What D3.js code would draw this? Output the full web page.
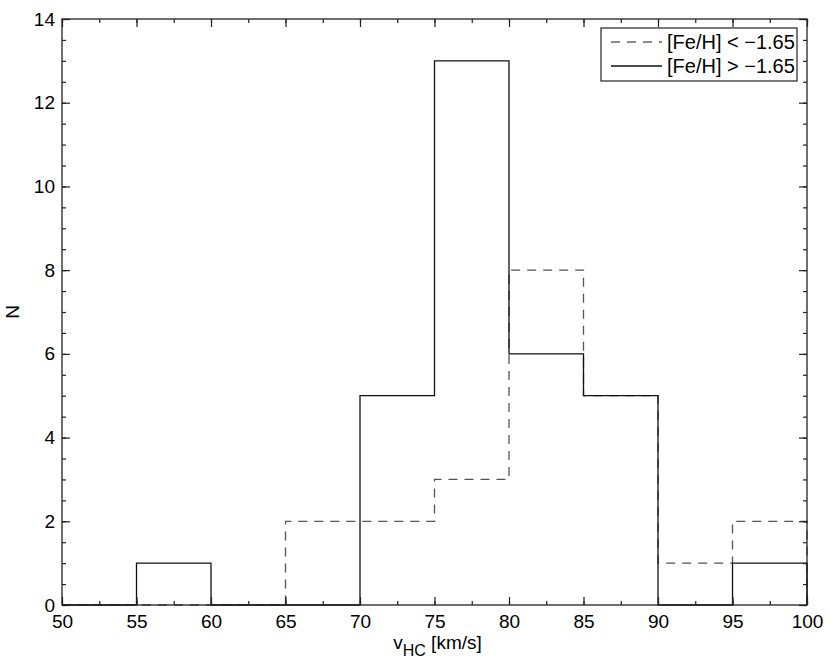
<!DOCTYPE html>
<meta charset="utf-8">
<style>
    body { margin: 0; background: #fff; }
    .tick text { font-family: "Liberation Sans", Arial, sans-serif; font-size: 19px; fill: #000; }
    .axisTitle { font-family: "Liberation Sans", Arial, sans-serif; font-size: 19px; fill: #000; }
    .hist { fill: none; }
</style>
<body>
<script src="https://d3js.org/d3.v7.min.js"></script>
<script>
    // bin edges (km/s) and counts per bin
    var binEdges = [50, 55, 60, 65, 70, 75, 80, 85, 90, 95, 100];
    var countsMetalPoor = [0, 0, 0, 2, 2, 3, 8, 5, 1, 2];   // [Fe/H] < -1.65
    var countsMetalRich = [0, 1, 0, 0, 5, 13, 6, 5, 0, 1];  // [Fe/H] > -1.65
    var xTicks = [50, 55, 60, 65, 70, 75, 80, 85, 90, 95, 100];
    var yTicks = [0, 2, 4, 6, 8, 10, 12, 14];
    var legendLabels = ["[Fe/H] < \u22121.65", "[Fe/H] > \u22121.65"];

    var margin = {top: 19, right: 23, bottom: 60, left: 62},
        width = 830 - margin.left - margin.right,
        height = 665 - margin.top - margin.bottom;

    var svg = d3.select("body").append("svg")
        .attr("width", 830).attr("height", 665)
        .append("g")
        .attr("transform", "translate(" + margin.left + "," + margin.top + ")");

    var x = d3.scaleLinear().domain([50, 100]).range([0, width]);
    var y = d3.scaleLinear().domain([0, 14]).range([height, 0]);

    // step outline for a histogram: start at 0, go up/down at each edge
    function stepPoints(counts) {
        var pts = [[binEdges[0], 0]];
        counts.forEach(function(c, i) {
            pts.push([binEdges[i], c]);
            pts.push([binEdges[i + 1], c]);
        });
        pts.push([binEdges[binEdges.length - 1], 0]);
        return pts;
    }
    var line = d3.line().x(function(d) { return x(d[0]); }).y(function(d) { return y(d[1]); });

    svg.append("path").datum(stepPoints(countsMetalPoor)).attr("class", "hist")
        .attr("d", line).attr("stroke", "#555").attr("stroke-width", 1.3)
        .attr("stroke-dasharray", "9,7");
    svg.append("path").datum(stepPoints(countsMetalRich)).attr("class", "hist")
        .attr("d", line).attr("stroke", "#111").attr("stroke-width", 1.3);

    // minor ticks
    var xMinor = d3.range(50, 100.01, 2.5);
    var yMinor = d3.range(0, 14.01, 0.5);

    function styleAxis(g) {
        g.select(".domain").remove();
        g.selectAll(".tick line").attr("stroke", "#222").attr("stroke-width", 1.2);
    }

    // bottom
    svg.append("g").attr("transform", "translate(0," + height + ")")
        .call(d3.axisBottom(x).tickValues(xMinor).tickSize(-4).tickFormat(""))
        .call(styleAxis);
    var xAxisG = svg.append("g").attr("transform", "translate(0," + height + ")")
        .call(d3.axisBottom(x).tickValues(xTicks).tickSize(-8).tickPadding(12).tickFormat(d3.format("d")))
        .call(styleAxis);
    xAxisG.selectAll(".tick text").attr("dy", null).attr("y", 23);
    // top
    svg.append("g")
        .call(d3.axisTop(x).tickValues(xMinor).tickSize(-4).tickFormat(""))
        .call(styleAxis);
    svg.append("g")
        .call(d3.axisTop(x).tickValues(xTicks).tickSize(-8).tickFormat(""))
        .call(styleAxis);
    // left
    svg.append("g")
        .call(d3.axisLeft(y).tickValues(yMinor).tickSize(-4).tickFormat(""))
        .call(styleAxis);
    svg.append("g")
        .call(d3.axisLeft(y).tickValues(yTicks).tickSize(-8).tickPadding(7).tickFormat(d3.format("d")))
        .call(styleAxis);
    // right
    svg.append("g").attr("transform", "translate(" + width + ",0)")
        .call(d3.axisRight(y).tickValues(yMinor).tickSize(-4).tickFormat(""))
        .call(styleAxis);
    svg.append("g").attr("transform", "translate(" + width + ",0)")
        .call(d3.axisRight(y).tickValues(yTicks).tickSize(-8).tickFormat(""))
        .call(styleAxis);

    // frame
    svg.append("rect").attr("width", width).attr("height", height)
        .attr("fill", "none").attr("stroke", "#222").attr("stroke-width", 1.3);

    // axis titles
    var xt = svg.append("text").attr("class", "axisTitle")
        .attr("x", width / 2 + 3).attr("y", height + 44).attr("text-anchor", "middle");
    xt.append("tspan").text("v");
    xt.append("tspan").attr("dy", 7).style("font-size", "16px").text("HC");
    xt.append("tspan").attr("dy", -7).text(" [km/s]");

    svg.append("text").attr("class", "axisTitle")
        .attr("transform", "translate(" + (-43) + "," + (height / 2) + ") rotate(-90)")
        .attr("text-anchor", "middle").text("N");

    // legend
    var lg = svg.append("g").attr("transform", "translate(" + (601 - margin.left) + "," + (28 - margin.top) + ")");
    lg.append("rect").attr("width", 196).attr("height", 53)
        .attr("fill", "#fff").attr("stroke", "#222").attr("stroke-width", 1.2);
    var legendStyles = [{stroke: "#666", dash: "9,7"}, {stroke: "#111", dash: null}];
    legendLabels.forEach(function(lbl, i) {
        var yy = 14 + i * 24;
        lg.append("line").attr("x1", 10).attr("x2", 61).attr("y1", yy).attr("y2", yy)
            .attr("stroke", legendStyles[i].stroke).attr("stroke-width", 1.3)
            .attr("stroke-dasharray", legendStyles[i].dash);
        lg.append("text").attr("class", "axisTitle").attr("x", 66).attr("y", yy + 7)
            .style("font-size", "20px").text(lbl);
    });
</script>
</body>
